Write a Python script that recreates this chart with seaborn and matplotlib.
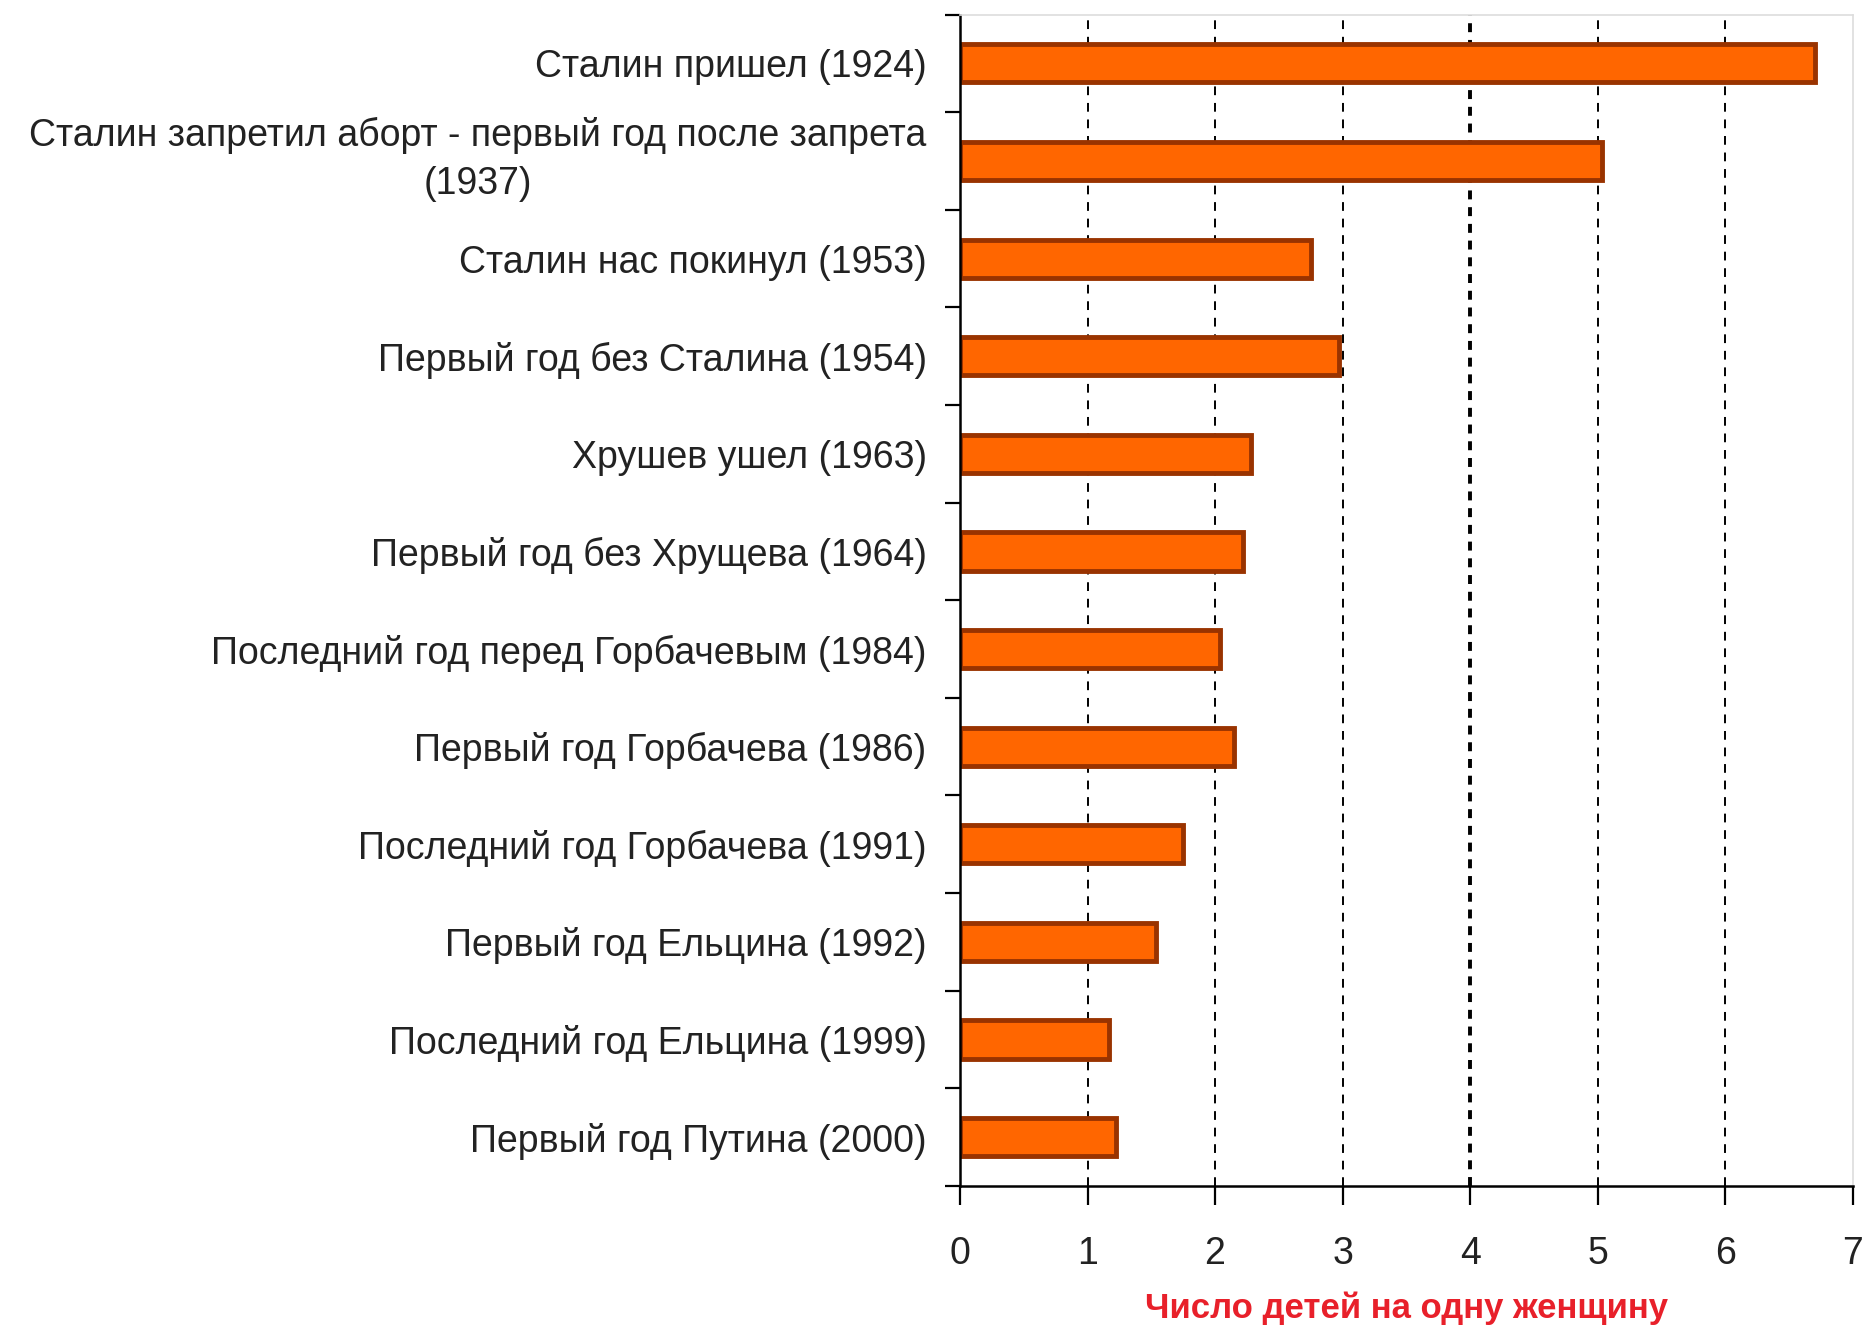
import matplotlib
matplotlib.use('Agg')
import matplotlib.pyplot as plt
import matplotlib.transforms as mtransforms
import seaborn as sns
import pandas as pd
import numpy as np

# data
events = ['Сталин пришел (1924)',
          'Сталин запретил аборт - первый год после запрета\n(1937)',
          'Сталин нас покинул (1953)',
          'Первый год без Сталина (1954)',
          'Хрушев ушел (1963)',
          'Первый год без Хрущева (1964)',
          'Последний год перед Горбачевым (1984)',
          'Первый год Горбачева (1986)',
          'Последний год Горбачева (1991)',
          'Первый год Ельцина (1992)',
          'Последний год Ельцина (1999)',
          'Первый год Путина (2000)']
births = [6.70, 5.03, 2.75, 2.97, 2.28, 2.22, 2.04, 2.15, 1.75, 1.54, 1.17, 1.22]
xticks = [0, 1, 2, 3, 4, 5, 6, 7]

df = pd.DataFrame({'event': events, 'births': births})

sns.set_style('white')
plt.rcParams['font.family'] = ['Liberation Sans', 'DejaVu Sans']

fig = plt.figure(figsize=(18.64, 13.31), dpi=100)
ax = fig.add_axes([0.515, 0.109, 0.479, 0.880])

sns.barplot(data=df, x='births', y='event', orient='h', color='#FF6600',
            edgecolor='#993300', linewidth=3.5, width=0.39, saturation=1, ax=ax)

ax.set_xlim(0, 7)
ax.set_ylim(len(events) - 0.5, -0.5)
ax.set_xticks(xticks)
ax.set_xticklabels([str(t) for t in xticks], fontsize=27, color='#222222')

# vertical dashed grid, the line at 4 is heavier
for t in xticks[1:-1]:
    if t == 4:
        ax.axvline(t, color='black', linestyle=(0, (2.3, 2.0)), lw=2.8, zorder=0)
    else:
        ax.axvline(t, color='black', linestyle=(0, (4.5, 4)), lw=1.4, zorder=0)

ax.set_ylabel('')
ax.set_xlabel('Число детей на одну женщину', fontsize=25, fontweight='bold',
              color='#E8202A', labelpad=14)

ax.tick_params(axis='y', which='major', left=False, length=0, pad=24,
               labelsize=27, labelcolor='#222222')
shift_up = mtransforms.ScaledTranslation(0, 0.12, fig.dpi_scale_trans)
for lab in ax.get_yticklabels():
    lab.set_multialignment('center')
    lab.set_linespacing(1.45)
    if '\n' in lab.get_text():
        lab.set_transform(lab.get_transform() + shift_up)
ax.set_yticks(np.arange(-0.5, len(events) + 0.5, 1), minor=True)
ax.tick_params(axis='y', which='minor', left=True, length=11, width=1.6,
               direction='out', color='black')
ax.tick_params(axis='x', bottom=True, length=14, width=1.6, direction='out',
               pad=22, color='black')

for s in ['left', 'bottom']:
    ax.spines[s].set_color('black')
    ax.spines[s].set_linewidth(1.8)
for s in ['top', 'right']:
    ax.spines[s].set_color('#dddddd')
    ax.spines[s].set_linewidth(1.2)

fig.savefig('out.png', dpi=100)
